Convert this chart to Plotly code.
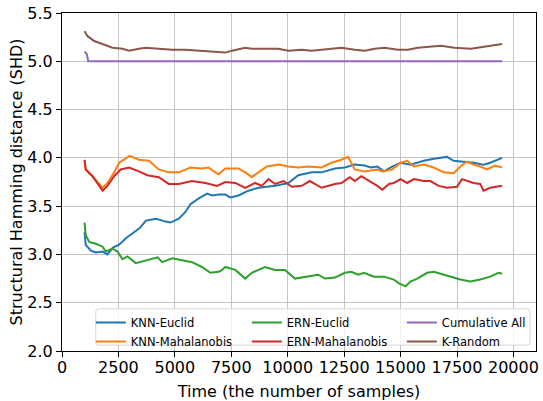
import plotly.graph_objects as go

# ---- data ----
knn_euclid_x = [1000, 1050, 1280, 1500, 1800, 2015, 2257, 2530, 2845, 3140, 3430, 3720, 4170, 4590, 4810, 5175, 5470, 5690, 6060, 6430, 6650, 6940, 7235, 7455, 7820, 8260, 8700, 9440, 10030, 10470, 11060, 11500, 12090, 12530, 12970, 13410, 13680, 13970, 14265, 14630, 15000, 15440, 16030, 16470, 17060, 17350, 17790, 18230, 18675, 18970, 19500]
knn_euclid_y = [3.23, 3.10, 3.04, 3.02, 3.03, 3.00, 3.07, 3.10, 3.17, 3.22, 3.27, 3.35, 3.37, 3.34, 3.33, 3.37, 3.44, 3.52, 3.58, 3.63, 3.61, 3.62, 3.62, 3.59, 3.61, 3.66, 3.69, 3.71, 3.74, 3.82, 3.85, 3.85, 3.89, 3.90, 3.93, 3.92, 3.90, 3.91, 3.86, 3.91, 3.95, 3.93, 3.97, 3.99, 4.01, 3.97, 3.96, 3.95, 3.93, 3.95, 4.00]

knn_mahal_x = [1000, 1050, 1350, 1570, 1800, 2015, 2310, 2530, 3000, 3410, 3850, 4290, 4730, 5175, 5690, 6200, 6500, 6790, 6940, 7235, 7820, 8120, 8410, 8700, 9070, 9590, 10030, 10470, 10910, 11500, 11940, 12380, 12675, 12970, 13410, 13970, 14190, 14630, 15000, 15290, 15590, 16030, 16470, 16910, 17350, 17650, 17940, 18230, 18530, 18820, 19190, 19500]
knn_mahal_y = [3.98, 3.88, 3.81, 3.75, 3.69, 3.74, 3.85, 3.95, 4.02, 3.98, 3.97, 3.88, 3.85, 3.85, 3.90, 3.89, 3.90, 3.85, 3.83, 3.89, 3.89, 3.85, 3.80, 3.85, 3.91, 3.93, 3.91, 3.90, 3.91, 3.90, 3.95, 3.98, 4.01, 3.88, 3.86, 3.88, 3.86, 3.88, 3.95, 3.97, 3.91, 3.93, 3.90, 3.85, 3.84, 3.91, 3.96, 3.93, 3.91, 3.88, 3.92, 3.90]

ern_euclid_x = [1000, 1050, 1210, 1500, 1800, 1940, 2235, 2456, 2680, 2900, 3265, 3700, 4237, 4440, 4880, 5320, 5760, 6200, 6570, 6940, 7090, 7235, 7680, 8120, 8410, 8700, 9000, 9440, 9880, 10320, 10910, 11350, 11650, 12090, 12530, 12820, 13120, 13380, 13820, 14265, 14700, 14925, 15220, 15440, 15735, 16180, 16470, 16910, 17350, 17650, 18090, 18530, 18970, 19335, 19500]
ern_euclid_y = [3.33, 3.20, 3.13, 3.11, 3.08, 3.03, 3.06, 3.03, 2.95, 2.98, 2.91, 2.94, 2.97, 2.92, 2.96, 2.94, 2.92, 2.87, 2.81, 2.82, 2.84, 2.87, 2.84, 2.75, 2.81, 2.84, 2.87, 2.84, 2.84, 2.75, 2.77, 2.79, 2.75, 2.76, 2.81, 2.82, 2.79, 2.81, 2.77, 2.77, 2.74, 2.70, 2.67, 2.72, 2.75, 2.81, 2.82, 2.79, 2.76, 2.74, 2.72, 2.74, 2.77, 2.81, 2.80]

ern_mahal_x = [1000, 1050, 1350, 1570, 1800, 2015, 2310, 2600, 2970, 3410, 3780, 4290, 4730, 5175, 5760, 6350, 6870, 7235, 7680, 8120, 8560, 8850, 9150, 9440, 9810, 10180, 10620, 10980, 11500, 12090, 12380, 12750, 12970, 13260, 13560, 13970, 14190, 14485, 14700, 15000, 15290, 15590, 16030, 16320, 16690, 17060, 17500, 17720, 18230, 18530, 18675, 18970, 19500]
ern_mahal_y = [3.98, 3.88, 3.81, 3.73, 3.66, 3.71, 3.81, 3.88, 3.90, 3.86, 3.82, 3.80, 3.73, 3.73, 3.76, 3.74, 3.71, 3.75, 3.74, 3.69, 3.74, 3.71, 3.78, 3.73, 3.76, 3.70, 3.71, 3.76, 3.69, 3.73, 3.74, 3.80, 3.76, 3.81, 3.77, 3.71, 3.67, 3.73, 3.74, 3.78, 3.74, 3.78, 3.76, 3.76, 3.71, 3.69, 3.70, 3.78, 3.74, 3.73, 3.66, 3.69, 3.71]

cumulative_x = [1000, 1100, 1160, 19500]
cumulative_y = [5.10, 5.075, 5.00, 5.00]

k_random_x = [1000, 1130, 1430, 1800, 2235, 2680, 2970, 3410, 3700, 4290, 4880, 5470, 6060, 6650, 7235, 7530, 8115, 8410, 9000, 9590, 10030, 10620, 11060, 11790, 12380, 12970, 13410, 13850, 14290, 14880, 15320, 15760, 16350, 16790, 17380, 18115, 18700, 19140, 19500]
k_random_y = [5.31, 5.26, 5.21, 5.18, 5.14, 5.13, 5.11, 5.13, 5.14, 5.13, 5.12, 5.12, 5.11, 5.10, 5.09, 5.11, 5.14, 5.13, 5.13, 5.13, 5.11, 5.12, 5.11, 5.13, 5.14, 5.12, 5.11, 5.13, 5.14, 5.12, 5.12, 5.14, 5.15, 5.16, 5.14, 5.13, 5.15, 5.17, 5.18]

x_ticks = [0, 2500, 5000, 7500, 10000, 12500, 15000, 17500, 20000]
y_ticks = [2.0, 2.5, 3.0, 3.5, 4.0, 4.5, 5.0, 5.5]

series = [
    ("KNN-Euclid", knn_euclid_x, knn_euclid_y, "#1f77b4", "legend"),
    ("KNN-Mahalanobis", knn_mahal_x, knn_mahal_y, "#ff7f0e", "legend"),
    ("ERN-Euclid", ern_euclid_x, ern_euclid_y, "#2ca02c", "legend2"),
    ("ERN-Mahalanobis", ern_mahal_x, ern_mahal_y, "#d62728", "legend2"),
    ("Cumulative All", cumulative_x, cumulative_y, "#9467bd", "legend3"),
    ("K-Random", k_random_x, k_random_y, "#8c564b", "legend3"),
]

FONT = "DejaVu Sans"
W, H = 543, 401
ML, MR, MT, MB = 62, 4, 13, 43
PW, PH = W - ML - MR, H - MT - MB

fig = go.Figure()
for name, xs, ys, col, lg in series:
    fig.add_trace(go.Scatter(x=xs, y=ys, mode="lines", name=name,
                             line=dict(color=col, width=2), legend=lg))

def px2paper_x(p):
    return (p - ML) / PW

def px2paper_y(p):
    return (H - MB - p) / PH

# legend frame (rounded)
x0, x1 = px2paper_x(96), px2paper_x(533)
y0, y1 = px2paper_y(352), px2paper_y(315)
rx, ry = 3 / PW, 3 / PH
path = (f"M {x0+rx},{y0} L {x1-rx},{y0} Q {x1},{y0} {x1},{y0+ry} "
        f"L {x1},{y1-ry} Q {x1},{y1} {x1-rx},{y1} L {x0+rx},{y1} "
        f"Q {x0},{y1} {x0},{y1-ry} L {x0},{y0+ry} Q {x0},{y0} {x0+rx},{y0} Z")
fig.add_shape(type="path", path=path, xref="paper", yref="paper",
              fillcolor="rgba(255,255,255,0.8)", line=dict(color="#d6d6d6", width=1),
              layer="above")

leg_common = dict(bgcolor="rgba(0,0,0,0)", borderwidth=0, orientation="v",
                  font=dict(family=FONT, size=11.5, color="black"),
                  xanchor="left", yanchor="top", tracegroupgap=0)
ly = px2paper_y(314)
fig.update_layout(
    legend=dict(x=px2paper_x(91), y=ly, **leg_common),
    legend2=dict(x=px2paper_x(248), y=ly, **leg_common),
    legend3=dict(x=px2paper_x(404), y=ly, **leg_common),
)

axis_common = dict(showline=True, linecolor="black", linewidth=1, mirror=True,
                   ticks="outside", ticklen=5, tickcolor="black", tickwidth=1,
                   showgrid=True, gridcolor="#c4c4c4", gridwidth=1, zeroline=False,
                   tickfont=dict(family=FONT, size=16, color="black"))

fig.update_xaxes(range=[0, 21000], tickvals=x_ticks, ticktext=[str(v) for v in x_ticks],
                 ticklabelstandoff=-3,
                 title=dict(text="Time (the number of samples)", standoff=9,
                            font=dict(family=FONT, size=16, color="black")),
                 **axis_common)
fig.update_yaxes(range=[2.0, 5.5], tickvals=y_ticks, ticktext=[f"{v:.1f}" for v in y_ticks],
                 title=dict(text="Structural Hamming distance (SHD)", standoff=0,
                            font=dict(family=FONT, size=16, color="black")),
                 **axis_common)

fig.update_layout(width=W, height=H, autosize=False,
                  margin=dict(l=ML, r=MR, t=MT, b=MB, pad=0),
                  plot_bgcolor="white", paper_bgcolor="white",
                  font=dict(family=FONT, size=16, color="black"))

fig.write_html("out.html")
